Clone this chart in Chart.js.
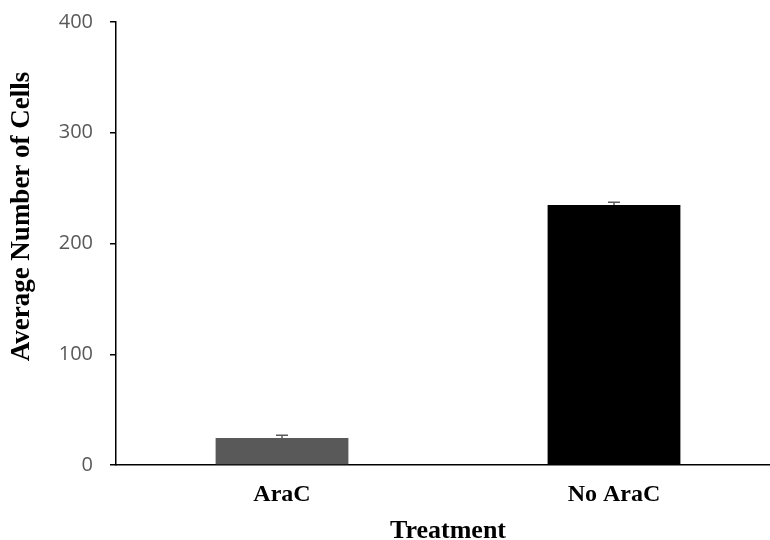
<!DOCTYPE html>
<html>
<head>
<meta charset="utf-8">
<script src="https://cdn.jsdelivr.net/npm/chart.js@4"></script>
<style>
  html, body { margin: 0; padding: 0; background: #fff; overflow: hidden; }
  #wrap { width: 800px; height: 540px; }
</style>
</head>
<body>
<div id="wrap"><canvas id="c" width="800" height="540"></canvas></div>
<script>
// Cell counts per treatment
const categories = ['AraC', 'No AraC'];
const averageCells = [24.4, 234.8];
const errorValues = [2.4, 2.4];
const barColors = ['#595959', '#000000'];
const yTicks = [0, 100, 200, 300, 400];
const yTitle = 'Average Number of Cells';
const xTitle = 'Treatment';

// Error bars drawn beneath the bars, so only the upper whisker shows
const errorBarPlugin = {
  id: 'errorBars',
  beforeDatasetsDraw(chart) {
    const ctx = chart.ctx;
    const meta = chart.getDatasetMeta(0);
    const yScale = chart.scales.y;
    ctx.save();
    ctx.strokeStyle = '#595959';
    ctx.lineWidth = 1.5;
    meta.data.forEach((bar, i) => {
      const x = bar.x;
      const top = yScale.getPixelForValue(averageCells[i] + errorValues[i]);
      const bottom = yScale.getPixelForValue(averageCells[i] - errorValues[i]);
      ctx.beginPath();
      ctx.moveTo(x, top);
      ctx.lineTo(x, bottom);
      ctx.moveTo(x - 6, top);
      ctx.lineTo(x + 6, top);
      ctx.moveTo(x - 6, bottom);
      ctx.lineTo(x + 6, bottom);
      ctx.stroke();
    });
    ctx.restore();
  }
};

// Vertical axis title, set a little above the middle of the plot
const yTitlePlugin = {
  id: 'yTitle',
  afterDraw(chart) {
    const ctx = chart.ctx;
    const area = chart.chartArea;
    ctx.save();
    ctx.translate(22, (area.top + area.bottom) / 2 - 27);
    ctx.rotate(-Math.PI / 2);
    ctx.font = 'bold 27px "Liberation Serif"';
    ctx.fillStyle = '#000';
    ctx.textAlign = 'center';
    ctx.textBaseline = 'middle';
    ctx.fillText(yTitle, 0, 0);
    ctx.restore();
  }
};

new Chart(document.getElementById('c'), {
  type: 'bar',
  data: {
    labels: categories,
    datasets: [{
      data: averageCells,
      backgroundColor: barColors,
      borderWidth: 0,
      barPercentage: 0.4,
      categoryPercentage: 1.0
    }]
  },
  options: {
    responsive: false,
    animation: false,
    layout: { padding: { left: 8, right: 20, top: 22, bottom: 0 } },
    plugins: { legend: { display: false }, tooltip: { enabled: false } },
    scales: {
      y: {
        min: 0,
        max: 400,
        afterBuildTicks(scale) { scale.ticks = yTicks.map(v => ({ value: v })); },
        afterFit(scale) {
          scale.width = 108;
          scale.paddingTop = 0;
          scale.paddingBottom = 0;
        },
        grid: { drawOnChartArea: false, drawTicks: true, tickLength: 6, color: '#000', lineWidth: 1.5 },
        border: { display: true, color: '#000', width: 1.5 },
        ticks: { color: '#595959', font: { family: 'Open Sans', size: 20 }, padding: 17 },
        title: { display: false }
      },
      x: {
        afterFit(scale) {
          scale.height = 75;
          scale.paddingLeft = 0;
          scale.paddingRight = 0;
        },
        grid: { display: false, drawTicks: false },
        border: { display: true, color: '#000', width: 1.5 },
        ticks: { color: '#000', font: { family: 'Liberation Serif', size: 24, weight: 'bold' }, padding: 15 },
        title: {
          display: true,
          text: xTitle,
          color: '#000',
          font: { family: 'Liberation Serif', size: 26, weight: 'bold', lineHeight: 0.7 },
          padding: { top: 0, bottom: 0 }
        }
      }
    }
  },
  plugins: [errorBarPlugin, yTitlePlugin]
});
</script>
</body>
</html>
